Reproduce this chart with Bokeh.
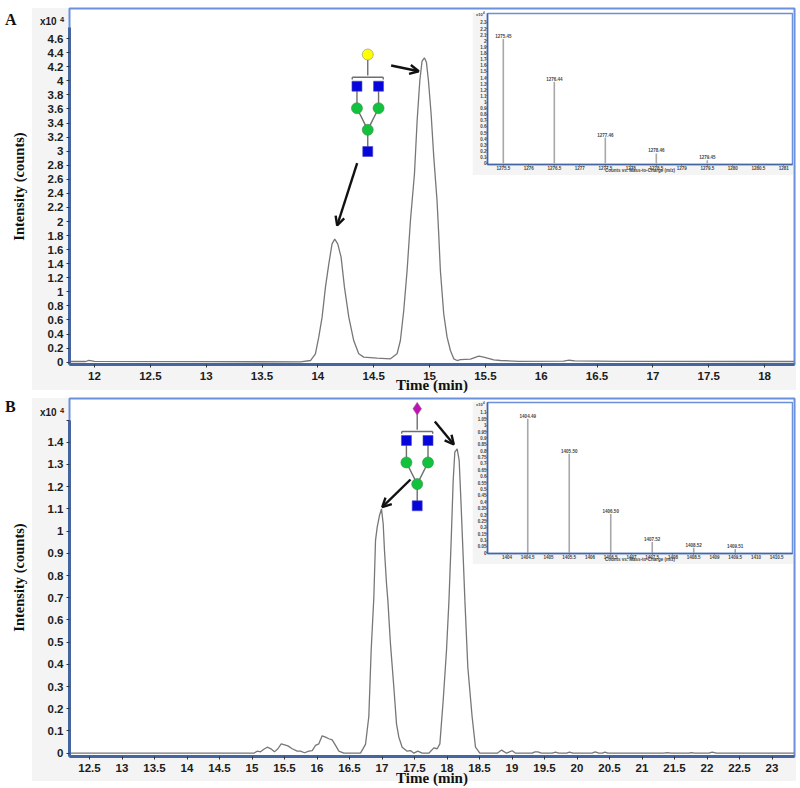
from bokeh.plotting import figure
from bokeh.layouts import column
from bokeh.models import FixedTicker, Arrow, OpenHead, Range1d, Div
from bokeh.core.properties import value
from bokeh.embed import file_html
from bokeh.resources import INLINE

# ---- data: panel A chromatogram
time_a = [11.776,11.92,11.95,12.0,13.0,13.844,13.934,13.978,14.008,14.038,14.068,14.098,14.127,14.151,14.178,14.208,14.238,14.277,14.321,14.366,14.411,14.53,14.65,14.709,14.739,14.769,14.799,14.829,14.865,14.889,14.913,14.933,14.954,14.972,14.99,15.014,15.038,15.067,15.082,15.097,15.127,15.157,15.187,15.217,15.247,15.276,15.366,15.441,15.485,15.575,15.635,15.8,16.2,16.25,16.3,16.7,17.0,18.0,18.268]
int_a = [0.01,0.01,0.025,0.012,0.008,0.005,0.024,0.119,0.356,0.64,1.067,1.398,1.683,1.749,1.683,1.493,1.067,0.64,0.308,0.119,0.072,0.057,0.048,0.119,0.308,0.735,1.303,2.014,2.678,3.436,4.005,4.279,4.327,4.265,4.005,3.531,2.915,2.298,1.825,1.303,0.688,0.356,0.166,0.048,0.024,0.038,0.043,0.086,0.072,0.034,0.024,0.012,0.015,0.028,0.02,0.012,0.012,0.01,0.01]

# ---- data: panel B chromatogram
time_b = [12.192,15.028,15.08,15.13,15.182,15.233,15.285,15.346,15.398,15.449,15.49,15.552,15.618,15.695,15.746,15.808,15.875,15.926,15.977,16.028,16.079,16.131,16.182,16.233,16.285,16.336,16.413,16.669,16.746,16.797,16.833,16.874,16.9,16.926,16.961,16.992,17.018,17.038,17.069,17.09,17.13,17.182,17.223,17.259,17.31,17.387,17.438,17.49,17.551,17.618,17.72,17.797,17.849,17.89,17.941,17.992,18.03,18.064,18.095,18.12,18.156,18.187,18.218,18.249,18.275,18.32,18.387,18.438,18.505,18.54,18.772,18.84,18.916,19.003,19.054,19.31,19.352,19.398,19.45,19.618,19.67,19.72,19.84,19.885,19.936,20.23,20.28,20.336,20.39,20.43,20.475,21.336,21.387,21.45,21.72,21.76,21.81,22.03,22.08,22.147,23.346]
int_b = [0,0,0.009,0.006,0.018,0.027,0.021,0.006,0.02,0.042,0.039,0.033,0.02,0.009,0.009,0.002,0.009,0.012,0.035,0.042,0.078,0.072,0.065,0.06,0.035,0.009,0,0,0.04,0.165,0.462,0.7,0.958,1.018,1.07,1.1,1.033,0.913,0.763,0.688,0.492,0.297,0.132,0.072,0.027,0.009,0.012,0,0.009,0,0,0.024,0.02,0.042,0.237,0.462,0.688,0.958,1.228,1.355,1.37,1.318,1.108,0.883,0.688,0.387,0.162,0.027,0,0,0,0.014,0,0.011,0,0,0.006,0.006,0,0,0.005,0,0,0.005,0,0,0.006,0,0,0.005,0,0,0.003,0,0,0.003,0,0,0.005,0,0]

# ---- data: mass spectra insets
mz_a = [1275.5,1276.5,1277.5,1278.5,1279.5]
counts_a = [2.03,1.33,0.42,0.16,0.05]
peak_labels_a = ["1275.45","1276.44","1277.46","1278.46","1279.45"]
mz_b = [1404.5,1405.5,1406.5,1407.5,1408.5,1409.5]
counts_b = [1.05,0.776,0.305,0.085,0.04,0.03]
peak_labels_b = ["1404.49","1405.50","1406.50","1407.52","1408.52","1409.51"]

# ---- tick labels
xt_a = ["12","12.5","13","13.5","14","14.5","15","15.5","16","16.5","17","17.5","18"]
yt_a = ["0","0.2","0.4","0.6","0.8","1","1.2","1.4","1.6","1.8","2","2.2","2.4","2.6","2.8","3","3.2","3.4","3.6","3.8","4","4.2","4.4","4.6"]
xt_b = ["12.5","13","13.5","14","14.5","15","15.5","16","16.5","17","17.5","18","18.5","19","19.5","20","20.5","21","21.5","22","22.5","23"]
yt_b = ["0","0.1","0.2","0.3","0.4","0.5","0.6","0.7","0.8","0.9","1","1.1","1.2","1.3","1.4"]
ixt_a = ["1275.5","1276","1276.5","1277","1277.5","1278","1278.5","1279","1279.5","1280","1280.5","1281"]
iyt_a = ["0","0.1","0.2","0.3","0.4","0.5","0.6","0.7","0.8","0.9","1","1.1","1.2","1.3","1.4","1.5","1.6","1.7","1.8","1.9","2","2.1","2.2","2.3"]
ixt_b = ["1404","1404.5","1405","1405.5","1406","1406.5","1407","1407.5","1408","1408.5","1409","1409.5","1410","1410.5"]
iyt_b = ["0","0.05","0.1","0.15","0.2","0.25","0.3","0.35","0.4","0.45","0.5","0.55","0.6","0.65","0.7","0.75","0.8","0.85","0.9","0.95","1","1.05","1.1"]

BLUE = "#44659f"; LIGHT = "#6b90dc"; GRAY = "#f4f4f4"; TICK = "#1c1c1c"
SANS = "Liberation Sans"; SERIF = "Liberation Serif"
INSET_H = 164


def ticks(axis, labels):
    vals = [float(s) for s in labels]
    axis.ticker = FixedTicker(ticks=vals)
    axis.major_label_overrides = {v: s for v, s in zip(vals, labels)}


def main_panel(xr, yr, top, frame_h, bottom, xt, yt, bound_top):
    p = figure(width=800, height=top + frame_h + bottom, frame_width=725, frame_height=frame_h,
               min_border_left=69, min_border_right=6, min_border_top=top, min_border_bottom=bottom,
               x_range=Range1d(*xr), y_range=Range1d(*yr), output_backend="svg", toolbar_location=None,
               border_fill_alpha=0, background_fill_color="white",
               outline_line_color=LIGHT, outline_line_width=2, margin=0)
    p.grid.visible = False
    ticks(p.xaxis[0], xt); ticks(p.yaxis[0], yt)
    for ax in (p.xaxis[0], p.yaxis[0]):
        ax.axis_line_color = BLUE; ax.axis_line_width = 3
        ax.major_tick_line_color = "#333333"; ax.major_tick_out = 3; ax.major_tick_in = 0
        ax.minor_tick_out = 0; ax.minor_tick_in = 0
        ax.major_label_text_font = SANS; ax.major_label_text_font_style = "bold"
        ax.major_label_text_font_size = "11.5px"; ax.major_label_text_color = TICK
        ax.axis_label_text_font = SERIF; ax.axis_label_text_font_style = "bold"
        ax.axis_label_text_color = "#111111"
    p.yaxis[0].bounds = (yr[0], bound_top)
    p.yaxis[0].major_label_standoff = 3
    p.xaxis[0].major_label_standoff = 4
    p.yaxis[0].axis_label = "Intensity (counts)"
    p.yaxis[0].axis_label_text_font_size = "14.5px"
    p.yaxis[0].axis_label_standoff = 18
    p.xaxis[0].axis_label = "Time (min)"
    p.xaxis[0].axis_label_text_font_size = "15px"
    p.xaxis[0].axis_label_standoff = -6
    return p


def span(x, y, text, size, font=SANS, color="#1a1a1a"):
    return (f'<span style="position:absolute;left:{x}px;top:{y}px;font:bold {size}px \'{font}\';'
            f'line-height:{size}px;color:{color};white-space:nowrap">{text}</span>')


def panel_bg(y, h):
    return f'<div style="position:absolute;left:32px;top:{y}px;width:764px;height:{h}px;background:{GRAY}"></div>'


def glycan(p, X, Y, cx, y0, marker, color, msize):
    s = "#6e6e6e"
    def seg(x0, a, x1, b):
        p.segment(X(cx + x0), Y(y0 + a), X(cx + x1), Y(y0 + b), line_color=s, line_width=1.4)
    seg(0, 0, 0, 21)
    seg(-15.5, 22.7, 15.5, 22.7); seg(-15.5, 22.7, -15.5, 25); seg(15.5, 22.7, 15.5, 25)
    seg(-10.8, 31.7, -10.8, 53.7); seg(10.8, 31.7, 10.8, 53.7)
    seg(-10.8, 53.7, 0, 75.3); seg(10.8, 53.7, 0, 75.3); seg(0, 75.3, 0, 97)
    p.scatter([X(cx)], [Y(y0)], marker=marker, size=msize, fill_color=color, line_color="#888888", line_width=0.6)
    p.scatter([X(cx - 10.8), X(cx + 10.8), X(cx)], [Y(y0 + 31.7), Y(y0 + 31.7), Y(y0 + 97)], marker="square",
              size=10, fill_color="#0505dc", line_color="#4a4ac0", line_width=0.6)
    p.scatter([X(cx - 10.8), X(cx + 10.8), X(cx)], [Y(y0 + 53.7), Y(y0 + 53.7), Y(y0 + 75.3)], marker="circle",
              size=11, fill_color="#12c23c", line_color="#3a8a4a", line_width=0.6)


def arrow(p, X, Y, a, b, c, d):
    p.add_layout(Arrow(end=OpenHead(size=9, line_width=2.4, line_color="#111111"),
                       x_start=X(a), y_start=Y(b), x_end=X(c), y_end=Y(d),
                       line_color="#111111", line_width=2.4))


def inset(xr, yr, frame_h, mz, counts, labels, xt, yt):
    p = figure(width=321, height=1 + frame_h + 10, frame_width=305, frame_height=frame_h,
               min_border_left=15, min_border_right=1, min_border_top=1, min_border_bottom=10,
               x_range=Range1d(*xr), y_range=Range1d(*yr), output_backend="svg", toolbar_location=None,
               border_fill_color=GRAY, background_fill_color="white",
               outline_line_color=LIGHT, outline_line_width=1.5, margin=0)
    p.grid.visible = False
    ticks(p.xaxis[0], xt); ticks(p.yaxis[0], yt)
    for ax in (p.xaxis[0], p.yaxis[0]):
        ax.axis_line_color = BLUE; ax.axis_line_width = 1.5
        ax.major_tick_line_color = "#555555"; ax.major_tick_out = 1; ax.major_tick_in = 0
        ax.minor_tick_out = 0; ax.minor_tick_in = 0
        ax.major_label_text_font = SANS; ax.major_label_text_font_style = "bold"
        ax.major_label_text_font_size = "4.5px"; ax.major_label_text_color = "#444444"
        ax.major_label_standoff = 0
    p.xaxis[0].axis_label = "Counts vs. Mass-to-Charge (m/z)"
    p.xaxis[0].axis_label_text_font = SANS; p.xaxis[0].axis_label_text_font_style = "bold"
    p.xaxis[0].axis_label_text_font_size = "4.5px"; p.xaxis[0].axis_label_text_color = "#444444"
    p.xaxis[0].axis_label_standoff = -5
    p.segment(mz, [0] * len(mz), mz, counts, line_color="#a8a8a8", line_width=1.6)
    p.text(mz, counts, text=labels, text_font=value(SANS), text_font_style="bold", text_font_size=value("4.5px"),
           text_color="#444444", text_align="center", text_baseline="bottom", y_offset=-1)
    return p


# ---------- page layer behind the figures: grey panels, panel letters, multipliers
under = Div(width=800, height=788, margin=0, text=(
    panel_bg(8, 382) + panel_bg(398, 383)
    + span(5, 12, "A", 16, SERIF, "#111111") + span(5, 399, "B", 16, SERIF, "#111111")
    + span(40, 17, "x10", 10) + span(60, 16, "4", 7.5)
    + span(40, 408, "x10", 10) + span(60, 407, "4", 7.5)))

# ---------- Panel A
XA = lambda px: 12 + (px - 94) / 111.7
YA = lambda py: (361.7 - py) / 70.35
pA = main_panel((11.776, 18.268), (-0.0327, 5.028), 8, 356, 30, xt_a, yt_a, 4.76)
pA.margin = (-788, 0, 0, 0)
pA.line(time_a, int_a, line_color="#777777", line_width=1.3)
glycan(pA, XA, YA, 367.3, 54, "circle", "#ffff00", 11)
arrow(pA, XA, YA, 390.7, 65, 418.3, 70.7)
arrow(pA, XA, YA, 356.7, 162.7, 336.7, 225)

iA = inset((1275.19, 1281.17), (-0.021, 2.446), 151, mz_a, counts_a, peak_labels_a, ixt_a, iyt_a)

# ---------- Panel B
XB = lambda px: 12.5 + (px - 89) / 65
YB = lambda py: (752.7 - py) / 222.1
pB = main_panel((12.192, 23.346), (-0.0149, 1.597), 4, 358, 32, xt_b, yt_b + ["1.5"], 1.5)
pB.xaxis[0].axis_label_standoff = -5
pB.yaxis[0].major_label_overrides = {float(s): s for s in yt_b} | {1.5: ""}
pB.line(time_b, int_b, line_color="#777777", line_width=1.3)
glycan(pB, XB, YB, 416.7, 408.3, "diamond", "#c010b8", 13)
arrow(pB, XB, YB, 434.3, 421, 453.3, 444)
arrow(pB, XB, YB, 410, 479, 381.7, 506.7)

iB = inset((1403.53, 1410.88), (-0.0055, 1.178), 151, mz_b, counts_b, peak_labels_b, ixt_b, iyt_b)

wrapA = column(iA, margin=(11 - 394, 0, 0, 472))
wrapB = column(iB, margin=(401 - 788, 0, 0, 472))
pB.margin = (394 - (11 + INSET_H), 0, 0, 0)

# multipliers of the two insets, above the inset figures
over = Div(width=800, height=225, margin=(-(401 + INSET_H), 0, 0, 0), text=(
    span(476, 14, "x10", 4, SANS, "#444444") + span(483, 12.5, "4", 3, SANS, "#444444")
    + span(476, 404, "x10", 4, SANS, "#444444") + span(483, 402.5, "4", 3, SANS, "#444444")))

root = column(under, pA, wrapA, pB, wrapB, over, spacing=0)
open("out.html", "w").write(file_html(root, INLINE))
